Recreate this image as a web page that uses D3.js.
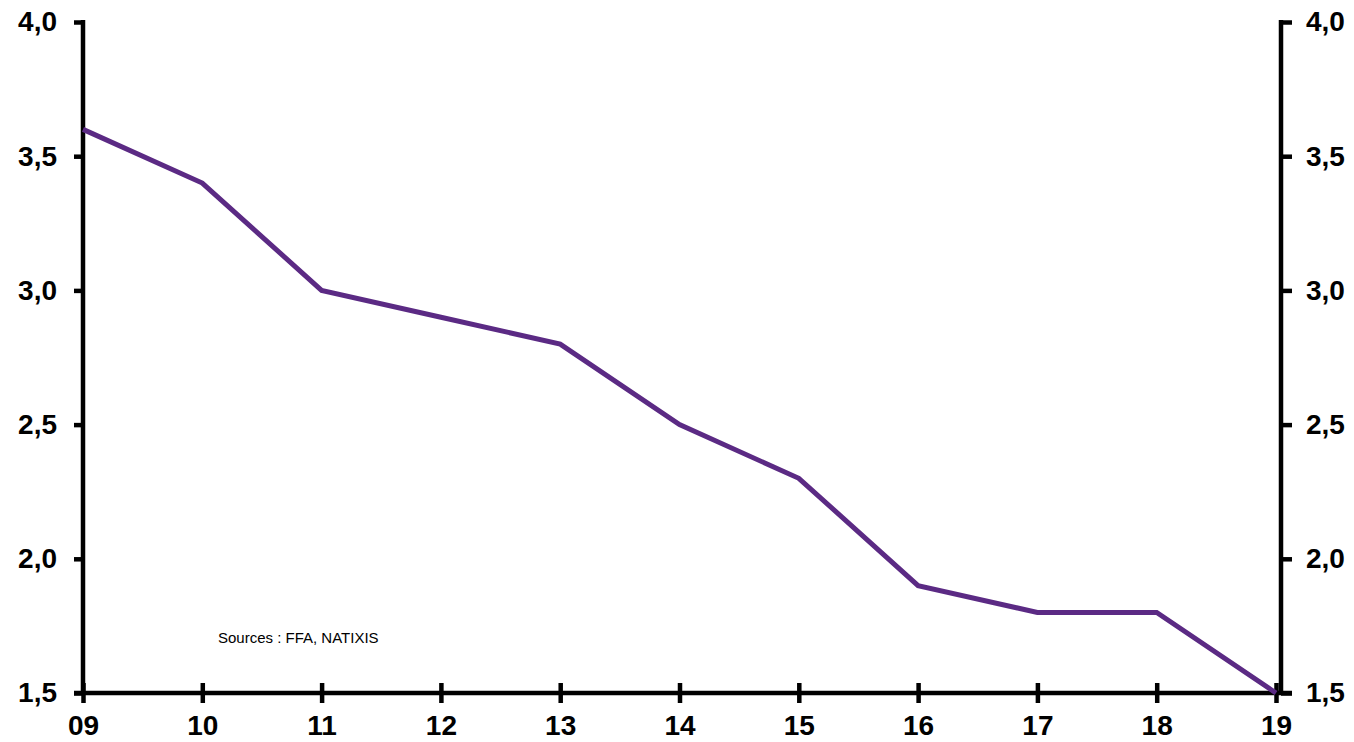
<!DOCTYPE html>
<html>
<head>
<meta charset="utf-8">
<script src="https://cdn.jsdelivr.net/npm/d3@7"></script>
<style>
  html, body { margin: 0; padding: 0; background: #fff; }
  svg { display: block; }
  text { font-family: "Liberation Sans", Arial, sans-serif; }
</style>
</head>
<body>
<svg id="chart" width="1354" height="742"></svg>
<script>
const categories = ["09", "10", "11", "12", "13", "14", "15", "16", "17", "18", "19"];
const values = [3.6, 3.4, 3.0, 2.9, 2.8, 2.5, 2.3, 1.9, 1.8, 1.8, 1.5];
const yTicks = [1.5, 2.0, 2.5, 3.0, 3.5, 4.0];
const sourceText = "Sources  : FFA, NATIXIS";

const svg = d3.select("#chart");
const mLeft = 83, mRight = 1276, mTop = 22, mBottom = 693;
const rightAxisX = 1281;

const x = d3.scalePoint().domain(categories).range([mLeft, mRight]);
const y = d3.scaleLinear().domain([1.5, 4.0]).range([mBottom, mTop]);
const fmt = d => d3.format(".1f")(d).replace(".", ",");

const axisW = 4.5;

// Left axis
const gL = svg.append("g").attr("transform", `translate(${mLeft},0)`)
  .call(d3.axisLeft(y).tickValues(yTicks).tickFormat(fmt).tickSize(9).tickPadding(17));
// Right axis
const gR = svg.append("g").attr("transform", `translate(${rightAxisX},0)`)
  .call(d3.axisRight(y).tickValues(yTicks).tickFormat(fmt).tickSize(11).tickPadding(14));
// Bottom axis (ticks cross the line)
const gB = svg.append("g").attr("transform", `translate(0,${mBottom})`)
  .call(d3.axisBottom(x).tickSize(10).tickPadding(12));

[gL, gR, gB].forEach(g => {
  g.select(".domain").remove();
  g.selectAll(".tick line").attr("stroke", "#000").attr("stroke-width", axisW);
  g.selectAll(".tick text")
    .attr("fill", "#000")
    .style("font-size", "28px")
    .style("font-weight", "bold")
    .style("font-family", "'Liberation Sans', Arial, sans-serif");
});
gB.selectAll(".tick line").attr("y1", -10);

// axis lines
svg.append("line").attr("x1", mLeft).attr("x2", mLeft).attr("y1", mTop - 2).attr("y2", mBottom + 2)
  .attr("stroke", "#000").attr("stroke-width", axisW);
svg.append("line").attr("x1", rightAxisX).attr("x2", rightAxisX).attr("y1", mTop - 2).attr("y2", mBottom + 2)
  .attr("stroke", "#000").attr("stroke-width", axisW);
svg.append("line").attr("x1", mLeft - 9).attr("x2", rightAxisX + 11).attr("y1", mBottom).attr("y2", mBottom)
  .attr("stroke", "#000").attr("stroke-width", axisW);

// Data line
const line = d3.line().x((d, i) => x(categories[i])).y(d => y(d));
svg.append("path").datum(values)
  .attr("d", line)
  .attr("fill", "none")
  .attr("stroke", "#5b2a84")
  .attr("stroke-width", 5)
  .attr("stroke-linejoin", "miter");

// Source
svg.append("text").attr("x", 218).attr("y", 643)
  .style("font-size", "15px").attr("fill", "#000")
  .text(sourceText);
</script>
</body>
</html>
